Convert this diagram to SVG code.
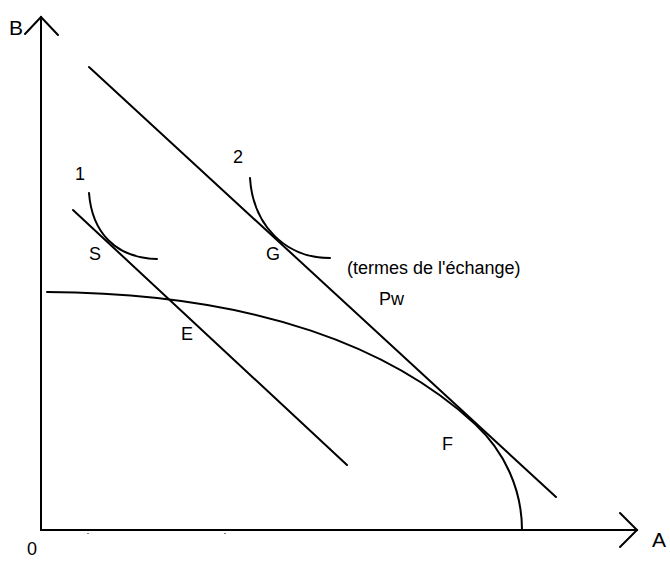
<svg xmlns="http://www.w3.org/2000/svg" width="670" height="561" viewBox="0 0 670 561">
<style>
.ln{fill:none;stroke:#000;stroke-width:2;stroke-linecap:round}
.t{font-family:"Liberation Sans",Arial,sans-serif;font-size:18px;fill:#000}
.big{font-size:21px}
</style>
<rect width="670" height="561" fill="#fff"/>
<g id="axes">
<path class="ln" d="M41,17 V530 H637"/>
<path class="ln" d="M25,34 L41,17 L58,35"/>
<path class="ln" d="M620,513 L637,530 L620,547"/>
<text class="t big" x="9" y="35">B</text>
<text class="t big" x="652" y="547">A</text>
<text class="t" x="27" y="555" font-size="17">0</text>
<path d="M88,533 v1 M225,533 v1" stroke="#000" stroke-width="1"/>
</g>
<g id="connectors">
<path id="line2" class="ln" d="M89,67 L556,497"/>
<path id="line1" class="ln" d="M73,210 L347,465"/>
<path id="ppf" class="ln" d="M47,292 C260,293 395,350 475,424 C505,452 522,490 522,530"/>
<path id="curve1" class="ln" d="M89,193 C92,232 115,258 157,259"/>
<path id="curve2" class="ln" d="M250,178 C253,225 285,258 330,258"/>
</g>
<g id="labels">
<text class="t" x="75" y="180">1</text>
<text class="t" x="233" y="163">2</text>
<text class="t" x="89" y="260">S</text>
<text class="t" x="266" y="260">G</text>
<text class="t" x="181" y="340">E</text>
<text class="t" x="442" y="450">F</text>
<text class="t" x="347" y="274" font-size="17">(termes de l'échange)</text>
<text class="t" x="379" y="305">Pw</text>
</g>
</svg>
